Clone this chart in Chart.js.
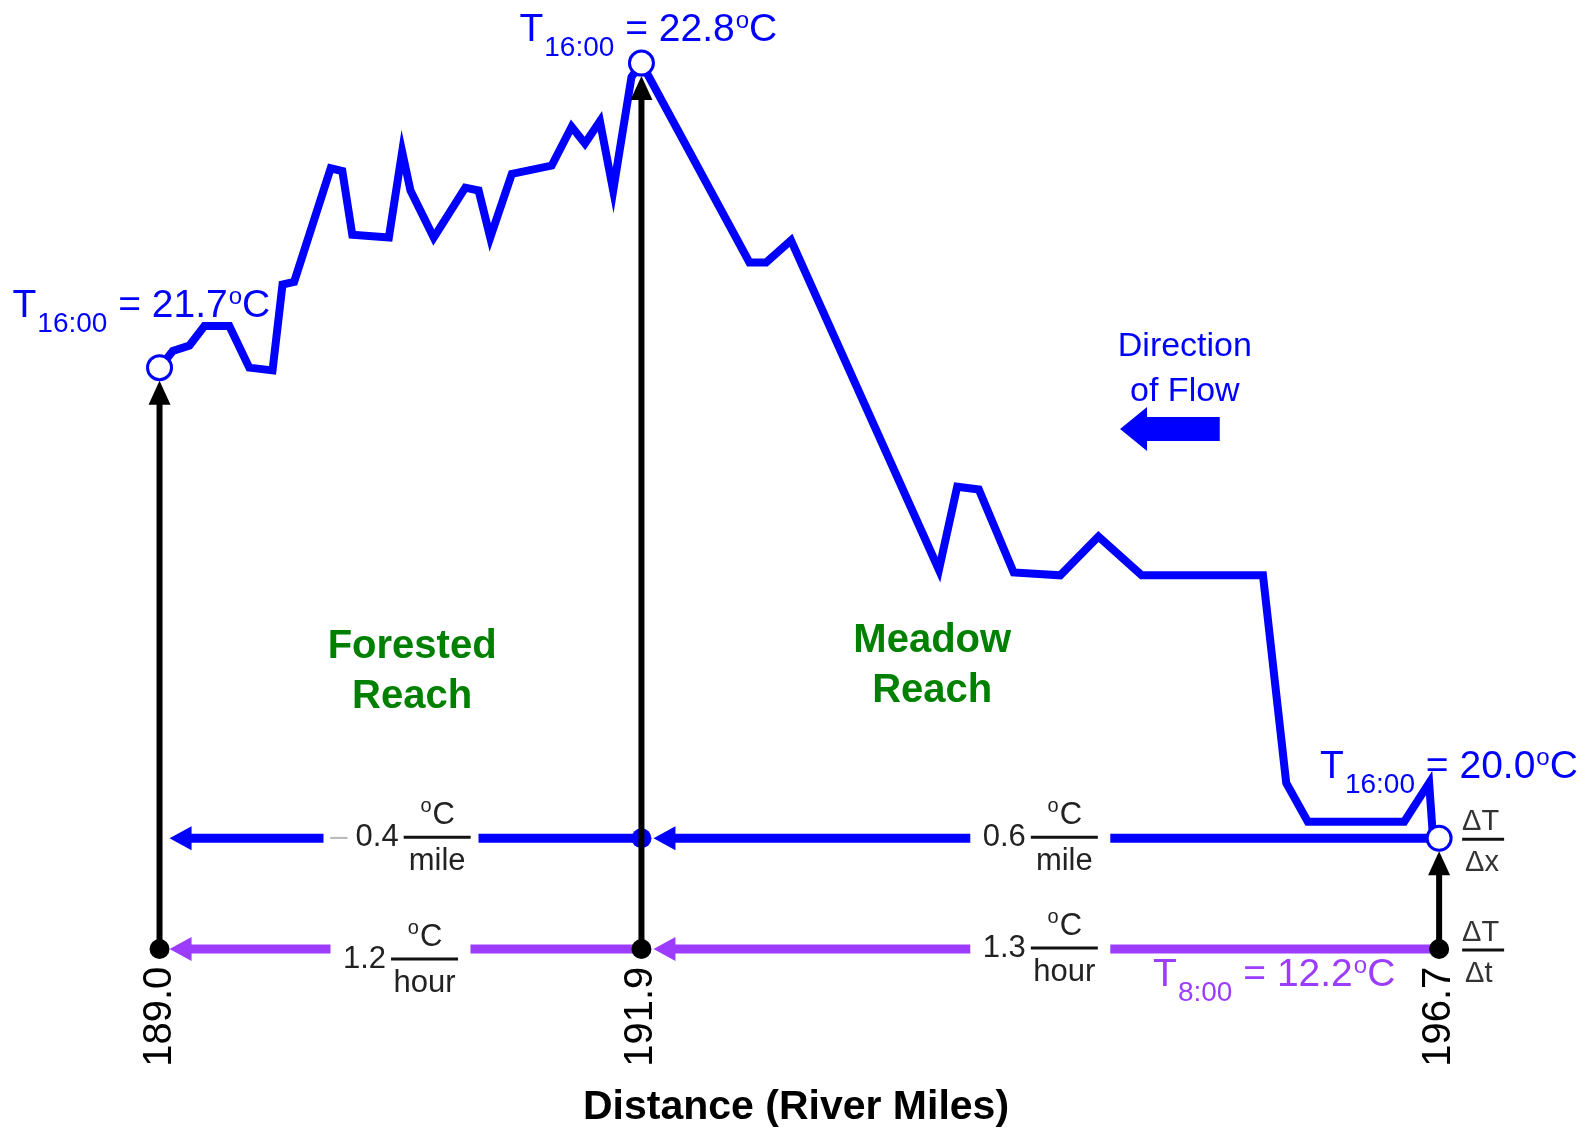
<!DOCTYPE html>
<html>
<head>
<meta charset="utf-8">
<script src="https://cdn.jsdelivr.net/npm/chart.js@4.4.0/dist/chart.umd.min.js"></script>
<style>
  html, body { margin: 0; padding: 0; background: #fff; }
</style>
</head>
<body>
<canvas id="myChart" width="1592" height="1132"></canvas>
<script>
// stream temperature at 16:00 along the reach (river miles, deg C)
var miles = [189.00, 189.08, 189.18, 189.27, 189.42, 189.54, 189.68, 189.74, 189.81, 190.03,
             190.10, 190.16, 190.38, 190.46, 190.51, 190.65, 190.84, 190.92, 190.99, 191.12,
             191.36, 191.48, 191.56, 191.65, 191.73, 191.84, 191.90,
             192.55, 192.65, 192.80, 193.69, 193.80, 193.93, 194.14, 194.42, 194.65, 194.91,
             195.64, 195.78, 195.91, 196.49, 196.64, 196.66, 196.70];
var temp1600 = [21.70, 21.76, 21.78, 21.85, 21.85, 21.70, 21.69, 22.00, 22.01, 22.42,
                22.41, 22.18, 22.17, 22.48, 22.34, 22.17, 22.35, 22.34, 22.17, 22.40,
                22.43, 22.57, 22.51, 22.59, 22.34, 22.75, 22.80,
                22.08, 22.08, 22.16, 20.97, 21.27, 21.26, 20.96, 20.95, 21.09, 20.95,
                20.95, 20.20, 20.06, 20.06, 20.20, 20.03, 20.00];

// the three stations (also the x tick labels)
var keyMiles = [189.0, 191.9, 196.7];
var keyTemps = [21.7, 22.8, 20.0];
var gradPerMile = [-0.4, 0.6];   // dT/dx between stations
var gradPerHour = [1.2, 1.3];    // dT/dt at the stations
var temp0800 = 12.2;

// where the two gradient rows sit on the temperature axis (schematic)
var rowDx = 20.0, rowDt = 19.6;

var BLUE = '#0000FF', PURPLE = '#9B3CFF', GREEN = '#008000';
var FONT = '"Liberation Sans", Arial, sans-serif';
Chart.defaults.font.family = FONT;

function text(ctx, s, x, y, size, color, align, weight) {
  ctx.font = (weight || 'normal') + ' ' + size + 'px ' + FONT;
  ctx.fillStyle = color;
  ctx.textAlign = align || 'left';
  ctx.textBaseline = 'alphabetic';
  ctx.fillText(s, x, y);
  return ctx.measureText(s).width;
}

// "T sub = value oC" label, x = left edge, y = baseline
function tLabel(ctx, x, y, sub, val, color) {
  x += text(ctx, 'T', x, y, 39, color);
  x += text(ctx, sub, x + 1, y + 15, 28, color) + 1;
  x += text(ctx, ' = ' + val.toFixed(1), x, y, 39, color);
  x += text(ctx, 'o', x + 1, y - 13, 24, color) + 1;
  text(ctx, 'C', x, y, 39, color);
}

// degree C written as superscript o + C, centred on cx
function degC(ctx, cx, y, color) {
  ctx.font = '20px ' + FONT; var wo = ctx.measureText('o').width;
  ctx.font = '31px ' + FONT; var wc = ctx.measureText('C').width;
  var x = cx - (wo + wc) / 2;
  text(ctx, 'o', x, y - 12, 20, color);
  text(ctx, 'C', x + wo + 1, y, 31, color);
}

function rowArrow(ctx, xFrom, xTip, y, color, gL, gR) {
  var head = 22, half = 12;
  ctx.strokeStyle = color; ctx.fillStyle = color; ctx.lineWidth = 9; ctx.lineCap = 'butt';
  ctx.beginPath();
  ctx.moveTo(xFrom, y); ctx.lineTo(gR, y);
  ctx.moveTo(gL, y); ctx.lineTo(xTip + head - 1, y);
  ctx.stroke();
  ctx.beginPath();
  ctx.moveTo(xTip, y); ctx.lineTo(xTip + head, y - half); ctx.lineTo(xTip + head, y + half);
  ctx.closePath(); ctx.fill();
}

function gradLabel(ctx, g, y, value, unit) {
  var num = Math.abs(value).toFixed(1);
  ctx.font = '31px ' + FONT;
  var wn = ctx.measureText(num).width;
  var wm = value < 0 ? ctx.measureText('\u2013').width + 8 : 0;
  var barW = 67, total = wm + wn + 5 + barW;
  var x = g - total / 2;
  if (value < 0) text(ctx, '\u2013', x, y + 8, 31, '#BBBBBB');
  text(ctx, num, x + wm, y + 8, 31, '#222');
  var b0 = x + wm + wn + 5;
  ctx.strokeStyle = '#111'; ctx.lineWidth = 3;
  ctx.beginPath(); ctx.moveTo(b0, y - 1); ctx.lineTo(b0 + barW, y - 1); ctx.stroke();
  degC(ctx, b0 + barW / 2, y - 14, '#222');
  text(ctx, unit, b0 + barW / 2, y + 32, 31, '#222', 'center');
}

function deltaLabel(ctx, x, y, bottom) {
  text(ctx, '\u0394T', x, y - 8, 29, '#333');
  ctx.strokeStyle = '#111'; ctx.lineWidth = 3;
  ctx.beginPath(); ctx.moveTo(x, y + 1); ctx.lineTo(x + 42, y + 1); ctx.stroke();
  text(ctx, bottom, x + 3, y + 33, 29, '#333');
}

var annotate = {
  id: 'annotate',
  afterDatasetsDraw: function (chart) {
    var ctx = chart.ctx, xs = chart.scales.x, ys = chart.scales.y;
    var X = function (v) { return xs.getPixelForValue(v); };
    var Y = function (v) { return ys.getPixelForValue(v); };
    var xk = keyMiles.map(X), yk = keyTemps.map(Y);
    var yDx = Y(rowDx), yDt = Y(rowDt);
    var g0 = (xk[0] + xk[1]) / 2, g1 = (xk[1] + xk[2]) / 2;
    ctx.save();

    // gradient rows
    rowArrow(ctx, xk[1], xk[0] + 10, yDx, BLUE, g0 - 77, g0 + 78);
    rowArrow(ctx, xk[2], xk[1] + 12, yDx, BLUE, g1 - 70, g1 + 70);
    rowArrow(ctx, xk[1], xk[0] + 10, yDt, PURPLE, g0 - 70, g0 + 70);
    rowArrow(ctx, xk[2], xk[1] + 12, yDt, PURPLE, g1 - 70, g1 + 70);
    ctx.fillStyle = BLUE;
    ctx.beginPath(); ctx.arc(xk[1], yDx, 10, 0, Math.PI * 2); ctx.fill();

    // vertical arrows from the 8:00 row up to the 16:00 values
    for (var i = 0; i < 3; i++) {
      var tip = yk[i] + 13;
      ctx.strokeStyle = '#000'; ctx.fillStyle = '#000'; ctx.lineWidth = 6;
      ctx.beginPath(); ctx.moveTo(xk[i], yDt); ctx.lineTo(xk[i], tip + 20); ctx.stroke();
      ctx.beginPath(); ctx.moveTo(xk[i], tip); ctx.lineTo(xk[i] - 11, tip + 24);
      ctx.lineTo(xk[i] + 11, tip + 24); ctx.closePath(); ctx.fill();
      ctx.beginPath(); ctx.arc(xk[i], yDt, 10, 0, Math.PI * 2); ctx.fill();
      ctx.fillStyle = '#fff'; ctx.strokeStyle = BLUE; ctx.lineWidth = 3;
      ctx.beginPath(); ctx.arc(xk[i], yk[i], 12, 0, Math.PI * 2); ctx.fill(); ctx.stroke();
    }

    // gradient labels
    gradLabel(ctx, g0, yDx, gradPerMile[0], 'mile');
    gradLabel(ctx, g1, yDx, gradPerMile[1], 'mile');
    gradLabel(ctx, g0, yDt + 11, gradPerHour[0], 'hour');
    gradLabel(ctx, g1, yDt, gradPerHour[1], 'hour');
    deltaLabel(ctx, xk[2] + 23, yDx, '\u0394x');
    deltaLabel(ctx, xk[2] + 23, yDt, '\u0394t');

    // temperature labels
    tLabel(ctx, xk[0] - 147, yk[0] - 51, '16:00', keyTemps[0], BLUE);
    tLabel(ctx, xk[1] - 122, yk[1] - 22, '16:00', keyTemps[1], BLUE);
    tLabel(ctx, xk[2] - 119, yk[2] - 60, '16:00', keyTemps[2], BLUE);
    tLabel(ctx, xk[2] - 286, yDt + 37, '8:00', temp0800, PURPLE);

    // direction of flow
    var dx = X(195.17);
    text(ctx, 'Direction', dx, Y(21.785) + 12, 34, BLUE, 'center');
    text(ctx, 'of Flow', dx, Y(21.622) + 12, 34, BLUE, 'center');
    var at = X(194.78), ae = X(195.38), ay = Y(21.478);
    ctx.fillStyle = BLUE;
    ctx.beginPath();
    ctx.moveTo(at, ay); ctx.lineTo(at + 27, ay - 22); ctx.lineTo(at + 27, ay - 12);
    ctx.lineTo(ae, ay - 12); ctx.lineTo(ae, ay + 12); ctx.lineTo(at + 27, ay + 12);
    ctx.lineTo(at + 27, ay + 22); ctx.closePath(); ctx.fill();

    // reach names
    text(ctx, 'Forested', X(190.52), Y(20.70) + 14, 40, GREEN, 'center', 'bold');
    text(ctx, 'Reach', X(190.52), Y(20.52) + 14, 40, GREEN, 'center', 'bold');
    text(ctx, 'Meadow', X(193.65), Y(20.724) + 14, 40, GREEN, 'center', 'bold');
    text(ctx, 'Reach', X(193.65), Y(20.543) + 14, 40, GREEN, 'center', 'bold');
    ctx.restore();
  }
};

var ctx = document.getElementById('myChart').getContext('2d');
var myChart = new Chart(ctx, {
    type: 'line',
    data: {
        datasets: [{
            label: 'T 16:00',
            data: miles.map(function (m, i) { return { x: m, y: temp1600[i] }; }),
            borderColor: BLUE,
            borderWidth: 8,
            pointRadius: 0,
            tension: 0,
            fill: false
        }]
    },
    options: {
        responsive: false,
        animation: false,
        devicePixelRatio: 1,
        layout: { padding: 0 },
        plugins: { legend: { display: false }, tooltip: { enabled: false } },
        scales: {
            x: {
                type: 'linear',
                min: 188.04,
                max: 197.62,
                afterBuildTicks: function (scale) {
                    scale.ticks = keyMiles.map(function (v) { return { value: v }; });
                },
                ticks: {
                    autoSkip: false,
                    minRotation: 90,
                    maxRotation: 90,
                    padding: 8,
                    color: '#000',
                    font: { size: 40 },
                    callback: function (v) { return Number(v).toFixed(1); }
                },
                grid: { display: false, drawTicks: false },
                border: { display: false },
                title: {
                    display: true,
                    text: 'Distance (River Miles)',
                    color: '#000',
                    font: { size: 41, weight: 'bold' },
                    padding: { top: 8, bottom: 0 }
                }
            },
            y: {
                display: false,
                min: 19.565,
                max: 23.028
            }
        }
    },
    plugins: [annotate]
});
</script>
</body>
</html>
